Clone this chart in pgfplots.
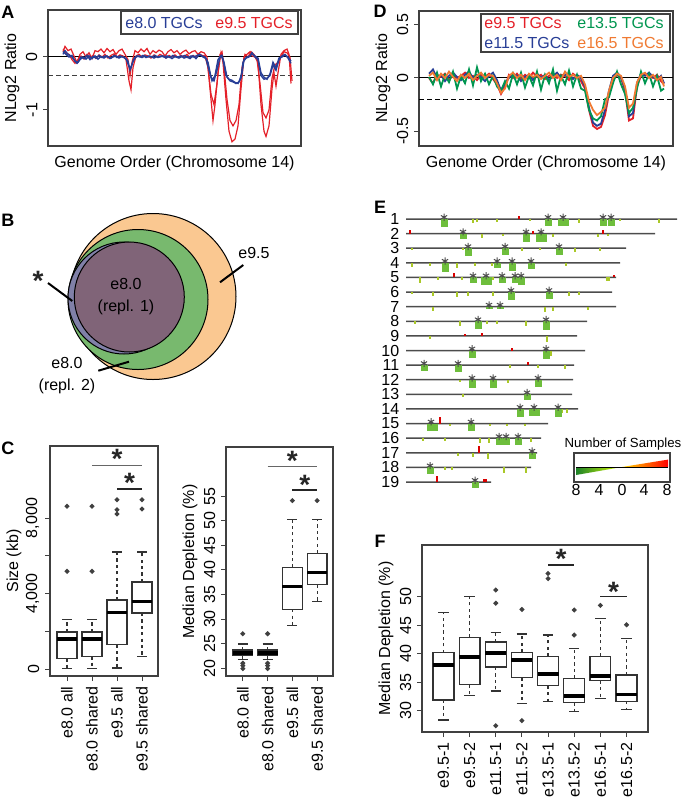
\documentclass[border=0pt]{standalone}
\usepackage{fontspec}
\setmainfont{Liberation Sans}
\usepackage{pgfplots}
\usepackage{pgfplotstable}
\pgfplotsset{compat=1.18}
\usepgfplotslibrary{statistics}

\definecolor{cred}{RGB}{228,32,40}
\definecolor{cblue}{RGB}{40,62,150}
\definecolor{cgreen}{RGB}{0,150,80}
\definecolor{corange}{RGB}{240,122,50}
\definecolor{vorange}{RGB}{250,200,145}
\definecolor{vgreen}{RGB}{120,185,110}
\definecolor{vpurple}{RGB}{128,100,120}
\definecolor{vslate}{RGB}{128,128,168}
\definecolor{egreen}{RGB}{110,190,60}
\definecolor{eyellow}{RGB}{170,200,40}

\tikzset{sigstar/.style={font=\fontsize{14}{14}\selectfont\bfseries, anchor=north, inner sep=0pt, black!85}}

\pgfplotsset{
  panel/.style={scale only axis, anchor=north west, clip=false,
    axis line style={black!75, line width=0.6pt},
    tick style={black!75, line width=0.5pt}, tick align=outside, major tick length=2.5pt,
    xtick pos=left, ytick pos=left,
    yticklabel style={rotate=90, anchor=south},
    every axis y label/.style={at={(axis description cs:0,0.5)}, anchor=center, xshift=-18pt, rotate=90},
    every axis x label/.style={at={(axis description cs:0.5,0)}, anchor=center, yshift=-8.5pt},
    /pgf/number format/assume math mode=true},
  rbox/.style={black!80, line width=0.6pt, mark=*, mark size=0.9pt,
    mark options={fill=black!75, draw=black!75, solid},
    boxplot/draw direction=y,
    boxplot/box extend=0.8, boxplot/whisker extend=0.4,
    boxplot/every median/.style={line width=1.8pt, black},
    boxplot/draw/lower whisker/.code={%
      \draw[black!80, line width=0.6pt, dash pattern=on 1.6pt off 1.6pt]
        (boxplot box cs:\pgfplotsboxplotvalue{lower quartile},0.5) -- (boxplot box cs:\pgfplotsboxplotvalue{lower whisker},0.5);
      \draw[black!80, line width=0.6pt]
        (boxplot whisker cs:\pgfplotsboxplotvalue{lower whisker},0) -- (boxplot whisker cs:\pgfplotsboxplotvalue{lower whisker},1);},
    boxplot/draw/upper whisker/.code={%
      \draw[black!80, line width=0.6pt, dash pattern=on 1.6pt off 1.6pt]
        (boxplot box cs:\pgfplotsboxplotvalue{upper quartile},0.5) -- (boxplot box cs:\pgfplotsboxplotvalue{upper whisker},0.5);
      \draw[black!80, line width=0.6pt]
        (boxplot whisker cs:\pgfplotsboxplotvalue{upper whisker},0) -- (boxplot whisker cs:\pgfplotsboxplotvalue{upper whisker},1);}},
  ebar/.style={draw=none, mark=none, forget plot, error bars/y explicit, error bars/error mark=none},
}

% panel E: chromosome lengths, depletions and gains
\pgfplotstableread{
c len
1 271
2 249
3 220
4 214
5 210
6 206
7 210
8 181
9 171
10 179
11 168
12 167
13 166
14 172
15 142
16 135
17 131
18 125
19 85
}\chrlen

\pgfplotstableread{
x c d
38 1 0.55
142 1 0.5
197 1 0.45
205 1 0.5
57 2 0.4
120 2 0.55
62 3 0.5
99 3 0.45
153 3 0.45
39 4 0.6
91 4 0.35
106 4 0.55
125 4 0.45
67 5 0.4
96 5 0.35
109 5 0.4
115 5 0.55
105 6 0.55
143 6 0.45
83 7 0.15
94 7 0.15
72 8 0.55
140 8 0.6
66 10 0.5
140 10 0.6
18 11 0.4
52 11 0.45
66 12 0.55
87 12 0.55
132 12 0.5
121 13 0.4
114 14 0.55
152 14 0.55
65 15 0.5
93 16 0.5
100 16 0.45
112 16 0.5
126 17 0.45
24 18 0.45
69 19 0.4
}\blobs

\pgfplotstableread{
x c d
157 1 0.5
135 2 0.6
80 5 0.5
128 14 0.45
26 15 0.5
}\wideblobs

\pgfplotstableread{
x c d
67 1 0.25
71 1 0.2
91 1 0.2
124 1 0.15
173 1 0.25
214 1 0.15
253 1 0.3
76 2 0.3
97 2 0.15
147 2 0.2
192 2 0.25
202 2 0.15
6 3 0.15
57 3 0.15
116 3 0.2
134 3 0.15
169 3 0.25
194 3 0.2
6 4 0.3
24 4 0.2
51 4 0.35
69 4 0.2
86 4 0.25
160 4 0.2
14 5 0.35
32 5 0.2
56 5 0.2
87 5 0.2
201 5 0.25
203 5 0.25
6 6 0.15
27 6 0.3
51 6 0.35
62 6 0.3
87 6 0.3
163 6 0.3
173 6 0.2
27 7 0.3
139 7 0.35
147 7 0.3
182 7 0.2
9 8 0.2
54 8 0.3
81 8 0.2
91 8 0.2
120 8 0.3
24 9 0.2
141 9 0.4
145 10 0.35
104 11 0.2
132 11 0.2
159 11 0.25
54 12 0.15
102 12 0.2
57 13 0.15
156 14 0.3
161 14 0.3
44 15 0.2
84 15 0.2
101 15 0.2
119 15 0.2
17 16 0.2
39 16 0.2
74 16 0.3
83 16 0.35
125 16 0.25
52 17 0.25
67 17 0.3
82 17 0.4
39 18 0.2
46 18 0.2
98 18 0.35
120 18 0.35
}\ticksE

\pgfplotstableread{
x c d
113 1 0.2
4 2 0.25
127 2 0.2
197 2 0.25
48 5 0.3
208 5 0.2
59 9 0.15
76 9 0.2
106 10 0.2
122 11 0.2
34 15 0.45
73 17 0.45
31 19 0.4
78 19 0.2
80 19 0.2
}\gainsE

\pgfplotstableread{
x c
38 1
142 1
157 1
197 1
205 1
57 2
120 2
135 2
62 3
99 3
153 3
39 4
91 4
106 4
125 4
67 5
80 5
96 5
109 5
115 5
105 6
143 6
83 7
94 7
72 8
140 8
66 10
140 10
18 11
52 11
66 12
87 12
132 12
121 13
114 14
128 14
152 14
25 15
65 15
93 16
100 16
112 16
126 17
24 18
69 19
}\starsE

\begin{document}
\fontsize{8}{9.6}\selectfont
\begin{tikzpicture}
\useasboundingbox (0,0) rectangle (340.5pt,-399pt);

% ---------------- A ----------------
\begin{axis}[panel, at={(24pt,-5pt)}, width=126.5pt, height=68pt,
  xmin=48, xmax=301, ymin=-1.68, ymax=0.887, xtick=\empty,
  ytick={-1,0}, yticklabels={-1,0},
  xlabel={Genome Order (Chromosome 14)}, ylabel={NLog2 Ratio}]
\addplot[black, line width=0.5pt] coordinates {(48,0) (301,0)};
\addplot[black!75, dash pattern=on 2.5pt off 1.5pt, line width=0.5pt] coordinates {(48,-0.35) (301,-0.35)};
\addplot[cred, line width=0.6pt] coordinates {(63,0.1) (65,0.2) (68,0.12) (71,0.15) (74,0.02) (77,-0.1) (80,0.05) (83,0.1) (86,0.0) (89,0.08) (92,-0.03) (95,0.12) (98,0.1) (101,0.15) (104,0.08) (107,0.16) (110,0.1) (113,0.14) (116,0.05) (119,0.12) (122,0.15) (125,0.05) (128,-0.05) (130,-0.35) (132,-0.1) (135,0.12) (138,0.08) (141,0.15) (144,0.1) (147,0.16) (150,0.05) (153,0.12) (156,0.08) (159,0.13) (162,0.1) (165,0.02) (168,0.1) (171,0.14) (174,0.08) (177,0.12) (180,0.05) (183,0.1) (186,0.13) (189,0.06) (192,0.1) (195,0.12) (198,0.05) (201,0.1) (204,0.08) (207,0.0) (210,-0.6) (213,-1.2) (215,-0.9) (218,-0.3) (221,0.08) (223,-0.1) (226,-0.8) (229,-1.4) (232,-1.6) (235,-1.55) (238,-1.3) (241,-0.6) (244,0.0) (247,0.05) (250,0.1) (252,0.02) (255,0.0) (258,-0.1) (261,-0.9) (264,-1.4) (266,-1.5) (269,-1.3) (272,-0.6) (274,-0.3) (276,-0.55) (278,-0.3) (281,0.05) (284,0.12) (287,0.15) (289,0.05) (291,-0.5)};
\addplot[cred, line width=0.6pt] coordinates {(63,0.15) (66,0.08) (69,0.05) (72,-0.05) (75,-0.12) (78,-0.05) (81,0.02) (84,-0.04) (87,0.05) (90,-0.02) (93,0.03) (96,-0.03) (99,0.04) (102,0.0) (105,0.05) (108,-0.02) (111,0.03) (114,0.06) (117,0.0) (120,0.04) (123,0.02) (126,-0.05) (129,-0.45) (131,-0.62) (133,-0.2) (136,0.02) (139,0.05) (142,0.0) (145,0.04) (148,0.02) (151,-0.02) (154,0.04) (157,0.0) (160,0.05) (163,0.02) (166,-0.02) (169,0.03) (172,0.0) (175,0.04) (178,-0.01) (181,0.03) (184,0.0) (187,0.05) (190,-0.02) (193,0.03) (196,0.0) (199,0.06) (202,0.03) (205,0.02) (208,-0.2) (211,-0.7) (214,-0.9) (217,-0.5) (220,0.05) (222,0.1) (224,-0.2) (227,-0.8) (230,-1.2) (233,-1.3) (236,-1.2) (239,-0.9) (242,-0.2) (245,0.05) (248,0.0) (251,0.1) (254,0.05) (257,-0.05) (260,-0.5) (263,-1.05) (266,-1.15) (269,-1.0) (272,-0.4) (275,-0.15) (278,-0.1) (281,0.0) (284,0.1) (287,0.08) (290,0.0) (292,-0.45)};
\addplot[cblue, line width=0.7pt] coordinates {(63,0.05) (65,0.12) (68,0.05) (71,0.02) (74,-0.05) (77,-0.12) (80,-0.05) (83,0.0) (86,-0.04) (89,0.02) (92,-0.03) (95,0.02) (98,-0.04) (101,0.01) (104,-0.02) (107,0.02) (110,-0.03) (113,0.0) (116,0.02) (119,-0.02) (122,0.01) (125,-0.02) (128,-0.08) (130,-0.25) (133,-0.08) (136,0.0) (139,0.02) (142,-0.01) (145,0.02) (148,0.0) (151,0.01) (154,-0.02) (157,0.01) (160,0.0) (163,0.02) (166,-0.02) (169,0.01) (172,-0.03) (175,0.01) (178,0.0) (181,0.02) (184,-0.02) (187,0.0) (190,-0.03) (193,0.02) (196,-0.03) (199,0.04) (202,0.02) (205,0.0) (208,-0.1) (211,-0.38) (214,-0.45) (217,-0.25) (220,0.0) (222,0.03) (224,-0.1) (227,-0.38) (230,-0.45) (233,-0.47) (236,-0.5) (239,-0.47) (242,-0.3) (244,-0.05) (247,0.0) (250,0.02) (252,0.08) (255,0.0) (258,-0.05) (261,-0.35) (264,-0.42) (267,-0.4) (270,-0.35) (273,-0.15) (276,-0.25) (279,-0.05) (282,0.02) (285,0.05) (288,-0.02) (291,-0.12)};
\addplot[cblue, line width=0.7pt] coordinates {(63,0.1) (66,0.05) (69,0.0) (72,0.03) (75,-0.08) (78,-0.1) (81,0.0) (84,-0.03) (87,0.03) (90,-0.05) (93,0.01) (96,-0.02) (99,0.03) (102,-0.01) (105,0.02) (108,0.0) (111,-0.02) (114,0.03) (117,-0.01) (120,0.02) (123,0.0) (126,-0.03) (129,-0.18) (131,-0.2) (134,-0.03) (137,0.02) (140,0.0) (143,0.03) (146,-0.01) (149,0.02) (152,0.0) (155,0.03) (158,-0.01) (161,0.02) (164,0.0) (167,0.02) (170,-0.01) (173,0.03) (176,0.0) (179,-0.02) (182,0.01) (185,0.03) (188,-0.01) (191,0.02) (194,0.0) (197,0.03) (200,0.05) (203,0.0) (206,-0.03) (209,-0.25) (212,-0.45) (215,-0.35) (218,-0.05) (221,0.03) (223,-0.05) (226,-0.35) (229,-0.42) (232,-0.44) (235,-0.48) (238,-0.5) (241,-0.4) (243,-0.1) (246,-0.02) (249,0.0) (252,0.06) (255,0.02) (258,-0.02) (261,-0.3) (264,-0.38) (267,-0.42) (270,-0.32) (273,-0.1) (276,-0.2) (279,-0.02) (282,0.0) (285,0.04) (288,0.0) (291,-0.08)};
\end{axis}
\draw[black!75, line width=0.6pt, fill=white] (60.5pt,-5.5pt) rectangle (149pt,-17pt);
\node[anchor=west, inner sep=0pt, text=cblue] at (62.5pt,-11.25pt) {e8.0 TGCs};
\node[anchor=west, inner sep=0pt, text=cred] at (107.5pt,-11.25pt) {e9.5 TGCs};

% ---------------- D ----------------
\begin{axis}[panel, at={(209.5pt,-5.5pt)}, width=127pt, height=67.5pt,
  xmin=419, xmax=673, ymin=-0.64, ymax=0.63, xtick=\empty,
  ytick={-0.5,0,0.5}, yticklabels={-0.5,0,0.5},
  xlabel={Genome Order (Chromosome 14)}, ylabel={NLog2 Ratio}]
\addplot[black, line width=0.5pt] coordinates {(419,0) (673,0)};
\addplot[black, dash pattern=on 2.5pt off 1.5pt, line width=0.5pt] coordinates {(419,-0.205) (673,-0.205)};
\addplot[cred, line width=0.9pt] coordinates {(429,0.0) (433,-0.05) (437,0.03) (441,0.01) (445,0.04) (449,-0.02) (453,0.03) (457,0.0) (461,0.02) (465,0.05) (469,0.0) (473,0.02) (477,-0.02) (481,0.03) (485,0.01) (489,0.04) (493,-0.01) (497,-0.06) (501,-0.15) (505,-0.08) (509,0.03) (513,0.0) (517,0.04) (521,-0.01) (525,0.03) (529,0.0) (533,0.05) (537,0.01) (541,0.03) (545,-0.01) (549,0.02) (553,0.04) (557,0.0) (561,0.03) (565,0.02) (569,-0.02) (573,0.04) (577,0.01) (581,-0.03) (585,-0.1) (589,-0.3) (593,-0.45) (597,-0.48) (601,-0.46) (605,-0.35) (609,-0.15) (613,-0.02) (617,0.03) (621,0.0) (625,-0.12) (629,-0.4) (633,-0.38) (637,-0.08) (641,0.02) (645,0.04) (649,0.02) (653,0.0) (657,0.03) (661,-0.03) (664,-0.06)};
\addplot[cblue, line width=0.9pt] coordinates {(429,0.04) (433,0.08) (437,0.0) (441,0.03) (445,-0.03) (449,0.02) (453,0.05) (457,0.01) (461,-0.02) (465,0.03) (469,0.06) (473,0.0) (477,0.03) (481,0.01) (485,-0.03) (489,0.02) (493,0.05) (497,-0.02) (501,-0.12) (505,-0.05) (509,0.0) (513,0.04) (517,0.02) (521,-0.03) (525,0.01) (529,0.03) (533,-0.02) (537,0.04) (541,0.0) (545,0.03) (549,-0.02) (553,0.02) (557,0.05) (561,0.0) (565,0.03) (569,0.04) (573,-0.01) (577,0.03) (581,0.0) (585,-0.08) (589,-0.28) (593,-0.42) (597,-0.45) (601,-0.43) (605,-0.3) (609,-0.12) (613,0.02) (617,0.05) (621,0.01) (625,-0.1) (629,-0.36) (633,-0.33) (637,-0.05) (641,0.04) (645,0.02) (649,0.05) (653,0.01) (657,-0.02) (661,0.02) (664,-0.05)};
\addplot[cgreen, line width=0.9pt] coordinates {(429,0.01) (433,-0.06) (437,0.05) (441,-0.08) (445,0.03) (449,-0.04) (453,0.06) (457,-0.1) (461,0.02) (465,-0.05) (469,0.08) (473,-0.07) (477,0.1) (481,-0.03) (485,0.04) (489,-0.06) (493,0.02) (497,-0.08) (501,-0.12) (505,-0.03) (509,-0.1) (513,0.04) (517,-0.06) (521,0.05) (525,-0.09) (529,0.02) (533,-0.07) (537,0.06) (541,-0.11) (545,0.03) (549,-0.05) (553,0.08) (557,-0.12) (561,0.02) (565,-0.06) (569,0.07) (573,-0.08) (577,0.03) (581,-0.1) (585,-0.12) (589,-0.3) (593,-0.38) (597,-0.4) (601,-0.36) (605,-0.2) (609,-0.18) (613,-0.05) (617,0.06) (621,-0.06) (625,-0.15) (629,-0.33) (633,-0.28) (637,-0.1) (641,0.06) (645,-0.05) (649,0.04) (653,-0.08) (657,0.02) (661,-0.12) (664,-0.1)};
\addplot[corange, line width=0.9pt] coordinates {(429,0.02) (433,0.05) (437,-0.02) (441,0.04) (445,0.0) (449,0.06) (453,0.01) (457,-0.03) (461,0.03) (465,0.0) (469,0.04) (473,-0.02) (477,0.02) (481,0.05) (485,0.0) (489,0.03) (493,0.02) (497,-0.05) (501,-0.14) (505,-0.1) (509,0.02) (513,0.05) (517,0.0) (521,0.03) (525,-0.02) (529,0.04) (533,0.01) (537,0.03) (541,-0.01) (545,0.02) (549,0.05) (553,0.0) (557,0.03) (561,-0.02) (565,0.06) (569,0.01) (573,0.03) (577,0.0) (581,0.02) (585,-0.06) (589,-0.22) (593,-0.3) (597,-0.35) (601,-0.32) (605,-0.28) (609,-0.12) (613,0.0) (617,0.04) (621,0.02) (625,-0.08) (629,-0.28) (633,-0.24) (637,-0.04) (641,0.03) (645,0.05) (649,0.0) (653,0.03) (657,-0.02) (661,0.01) (664,-0.08)};
\end{axis}
\draw[black!75, line width=0.6pt, fill=white] (240.5pt,-7pt) rectangle (335pt,-26pt);
\node[anchor=west, inner sep=0pt, text=cred] at (242pt,-11.5pt) {e9.5 TGCs};
\node[anchor=west, inner sep=0pt, text=cgreen] at (288.5pt,-11.5pt) {e13.5 TGCs};
\node[anchor=west, inner sep=0pt, text=cblue] at (242pt,-21.5pt) {e11.5 TGCs};
\node[anchor=west, inner sep=0pt, text=corange] at (288.5pt,-21.5pt) {e16.5 TGCs};

% ---------------- B ----------------
\begin{axis}[at={(0pt,-95pt)}, anchor=north west, scale only axis, width=170pt, height=105pt,
  xmin=0, xmax=340, ymin=190, ymax=400, y dir=reverse, hide axis, clip=false]
\draw[black, line width=0.5pt, fill=vorange] (axis cs:153,296.5) circle[radius=41.5pt];
\draw[black, line width=0.5pt, fill=vgreen] (axis cs:138,299.5) circle[radius=35pt];
\draw[black, line width=0.5pt, fill=vslate] (axis cs:124,298) circle[radius=28pt];
\draw[black, line width=0.5pt, fill=vpurple] (axis cs:129.3,297) circle[radius=27.5pt];
\node[align=center, inner sep=0pt] at (axis cs:126,296.5) {e8.0\\[1pt](repl. 1)};
\node[inner sep=0pt] at (axis cs:254,253) {e9.5};
\node[align=center, inner sep=0pt] at (axis cs:67,375.5) {e8.0\\[1pt](repl. 2)};
\node[sigstar] at (axis cs:38,271) {*};
\draw[black, line width=1pt] (axis cs:220,282.3) -- (axis cs:243.3,265);
\draw[black, line width=1pt] (axis cs:98.3,370.7) -- (axis cs:129,361.7);
\draw[black, line width=1pt] (axis cs:48,283) -- (axis cs:72.3,301);
\end{axis}

% ---------------- E ----------------
\begin{axis}[at={(203pt,-109.5pt)}, anchor=north west, scale only axis, width=135.5pt, height=131.5pt,
  xmin=0, xmax=271, ymin=1, ymax=19, y dir=reverse, clip=false,
  axis line style={draw=none}, major tick length=0pt, xtick=\empty, ytick={1,...,19},
  yticklabel style={anchor=east, xshift=-0.5pt}, /pgf/number format/assume math mode=true]
\addplot[xbar, bar width=0.75pt, bar shift=0pt, fill=black!70, draw=none] table[x=len, y=c] {\chrlen};
\addplot[ebar, error bars/y dir=plus, error bars/error bar style={draw=eyellow, line width=0.7pt}]
  table[x=x, y=c, y error=d] {\ticksE};
\addplot[ebar, error bars/y dir=plus, error bars/error bar style={draw=egreen, line width=3.5pt}]
  table[x=x, y=c, y error=d] {\blobs};
\addplot[ebar, error bars/y dir=plus, error bars/error bar style={draw=egreen, line width=5.5pt}]
  table[x=x, y=c, y error=d] {\wideblobs};
\addplot[ebar, error bars/y dir=minus, error bars/error bar style={draw=red!85!black, line width=0.8pt}]
  table[x=x, y=c, y error=d] {\gainsE};
\addplot[only marks, mark=asterisk, mark size=1.8pt, black!70, mark options={line width=0.5pt}]
  table[x=x, y expr=\thisrow{c}-0.12] {\starsE};
\end{axis}
% colour key
\node[anchor=center, inner sep=0pt, font=\fontsize{6.6}{8}\selectfont] at (311.5pt,-222pt) {Number of Samples};
\draw[black!75, line width=0.6pt] (287pt,-226.5pt) rectangle (335pt,-241pt);
\shade[left color={rgb,255:red,30;green,130;blue,40}, right color=yellow!85!green] (288pt,-233.5pt) -- (311pt,-233.5pt) -- (288pt,-237.5pt) -- cycle;
\shade[left color=yellow!70!orange, right color=red] (311pt,-233.5pt) -- (334pt,-233.5pt) -- (334pt,-229.8pt) -- cycle;
\draw[black, line width=0.5pt] (288pt,-233.5pt) -- (334pt,-233.5pt);
\foreach \xx/\ll in {288/8, 299.5/4, 311/0, 322/4, 333.5/8}
  \node[inner sep=0pt] at (\xx pt,-245pt) {\ll};

% ---------------- C left (values in thousands of kb) ----------------
\begin{axis}[panel, at={(25pt,-223pt)}, width=54pt, height=115pt,
  xmin=0.32, xmax=4.64, ymin=-0.371, ymax=11.815,
  xtick={1,2,3,4}, xticklabels={e8.0 all, e8.0 shared, e9.5 all, e9.5 shared},
  xticklabel style={rotate=90, anchor=east},
  ytick={0,2,4,6,8}, yticklabels={{0},{},{4,000},{},{8,000}},
  ylabel={Size (kb)}]
\addplot[rbox, boxplot prepared={draw position=1, lower whisker=0.035, lower quartile=0.565, median=1.589, upper quartile=1.960, upper whisker=2.614}]
  table[row sep=\\, y index=0] {v\\ 5.174\\ 8.618\\};
\addplot[rbox, boxplot prepared={draw position=2, lower whisker=0.035, lower quartile=0.671, median=1.589, upper quartile=1.960, upper whisker=2.614}]
  table[row sep=\\, y index=0] {v\\ 5.174\\ 8.618\\};
\addplot[rbox, boxplot prepared={draw position=3, lower whisker=0.053, lower quartile=1.289, median=2.985, upper quartile=3.656, upper whisker=6.199}]
  table[row sep=\\, y index=0] {v\\ 8.212\\ 8.441\\ 8.971\\};
\addplot[rbox, boxplot prepared={draw position=4, lower whisker=0.671, lower quartile=2.967, median=3.585, upper quartile=4.609, upper whisker=6.199}]
  table[row sep=\\, y index=0] {v\\ 8.477\\ 8.971\\};
\draw[black!60, line width=0.8pt] (axis cs:2,10.773) -- (axis cs:4,10.773);
\draw[black!85, line width=0.8pt] (axis cs:3,9.536) -- (axis cs:4,9.536);
\node[sigstar] at (axis cs:3,11.65) {*};
\node[sigstar] at (axis cs:3.5,10.42) {*};
\end{axis}

% ---------------- C right ----------------
\begin{axis}[panel, at={(113pt,-223.5pt)}, width=53.5pt, height=114.5pt,
  xmin=0.32, xmax=4.64, ymin=18.4, ymax=65,
  xtick={1,2,3,4}, xticklabels={e8.0 all, e8.0 shared, e9.5 all, e9.5 shared},
  xticklabel style={rotate=90, anchor=east},
  ytick={20,25,...,55},
  ylabel={Median Depletion (\%)}]
\addplot[rbox, boxplot prepared={draw position=1, lower whisker=21.8, lower quartile=22.5, median=23.1, upper quartile=23.7, upper whisker=24.9}]
  table[row sep=\\, y index=0] {v\\ 27.0\\ 21.0\\ 20.5\\ 19.9\\};
\addplot[rbox, boxplot prepared={draw position=2, lower whisker=21.8, lower quartile=22.5, median=23.1, upper quartile=23.7, upper whisker=24.9}]
  table[row sep=\\, y index=0] {v\\ 27.0\\ 21.0\\ 20.5\\ 19.9\\};
\addplot[rbox, boxplot prepared={draw position=3, lower whisker=28.6, lower quartile=32.0, median=36.6, upper quartile=40.5, upper whisker=50.2}]
  table[row sep=\\, y index=0] {v\\ 54.1\\};
\addplot[rbox, boxplot prepared={draw position=4, lower whisker=33.6, lower quartile=37.0, median=39.5, upper quartile=43.4, upper whisker=50.2}]
  table[row sep=\\, y index=0] {v\\ 54.1\\};
\draw[black!60, line width=0.8pt] (axis cs:2,61.0) -- (axis cs:4,61.0);
\draw[black!85, line width=0.8pt] (axis cs:3,56.3) -- (axis cs:4,56.3);
\node[sigstar] at (axis cs:3,64.2) {*};
\node[sigstar] at (axis cs:3.5,59.4) {*};
\end{axis}

% ---------------- F ----------------
\begin{axis}[panel, at={(211pt,-272.5pt)}, width=113pt, height=93.5pt,
  xmin=0.18, xmax=8.82, ymin=26.3, ymax=59.1,
  xtick={1,...,8}, xticklabels={e9.5-1, e9.5-2, e11.5-1, e11.5-2, e13.5-1, e13.5-2, e16.5-1, e16.5-2},
  xticklabel style={rotate=90, anchor=east},
  ytick={30,35,...,50},
  ylabel={Median Depletion (\%)}]
\addplot[rbox, boxplot prepared={draw position=1, lower whisker=28.4, lower quartile=31.9, median=38.1, upper quartile=40.2, upper whisker=47.25}] coordinates {};
\addplot[rbox, boxplot prepared={draw position=2, lower whisker=32.7, lower quartile=34.6, median=39.5, upper quartile=42.9, upper whisker=50.0}] coordinates {};
\addplot[rbox, boxplot prepared={draw position=3, lower whisker=33.5, lower quartile=37.7, median=40.2, upper quartile=42.1, upper whisker=43.7}]
  table[row sep=\\, y index=0] {v\\ 51.2\\ 48.9\\ 27.4\\};
\addplot[rbox, boxplot prepared={draw position=4, lower whisker=31.3, lower quartile=35.8, median=38.9, upper quartile=40.3, upper whisker=43.5}]
  table[row sep=\\, y index=0] {v\\ 47.8\\ 28.3\\};
\addplot[rbox, boxplot prepared={draw position=5, lower whisker=31.6, lower quartile=34.4, median=36.5, upper quartile=39.6, upper whisker=43.3}]
  table[row sep=\\, y index=0] {v\\ 54.1\\ 53.2\\};
\addplot[rbox, boxplot prepared={draw position=6, lower whisker=29.9, lower quartile=31.5, median=32.6, upper quartile=35.7, upper whisker=40.9}]
  table[row sep=\\, y index=0] {v\\ 47.7\\ 43.3\\};
\addplot[rbox, boxplot prepared={draw position=7, lower whisker=32.2, lower quartile=35.3, median=36.1, upper quartile=39.6, upper whisker=46.2}]
  table[row sep=\\, y index=0] {v\\ 48.5\\};
\addplot[rbox, boxplot prepared={draw position=8, lower whisker=30.2, lower quartile=31.7, median=32.9, upper quartile=36.3, upper whisker=42.7}]
  table[row sep=\\, y index=0] {v\\ 45.1\\};
\draw[black!85, line width=0.8pt] (axis cs:5,55.6) -- (axis cs:6,55.6);
\draw[black!85, line width=0.8pt] (axis cs:7,50.1) -- (axis cs:8,50.1);
\node[sigstar] at (axis cs:5.5,58.5) {*};
\node[sigstar] at (axis cs:7.5,52.6) {*};
\end{axis}

% panel letters
\foreach \px/\py/\lab in {4/-6/A, 4/-110/B, 4/-224/C, 190/-5.75/D, 190/-103.5/E, 190/-270.5/F}
  \node[font=\fontsize{9}{9}\selectfont\bfseries, inner sep=0pt] at (\px pt,\py pt) {\lab};
\end{tikzpicture}
\end{document}
